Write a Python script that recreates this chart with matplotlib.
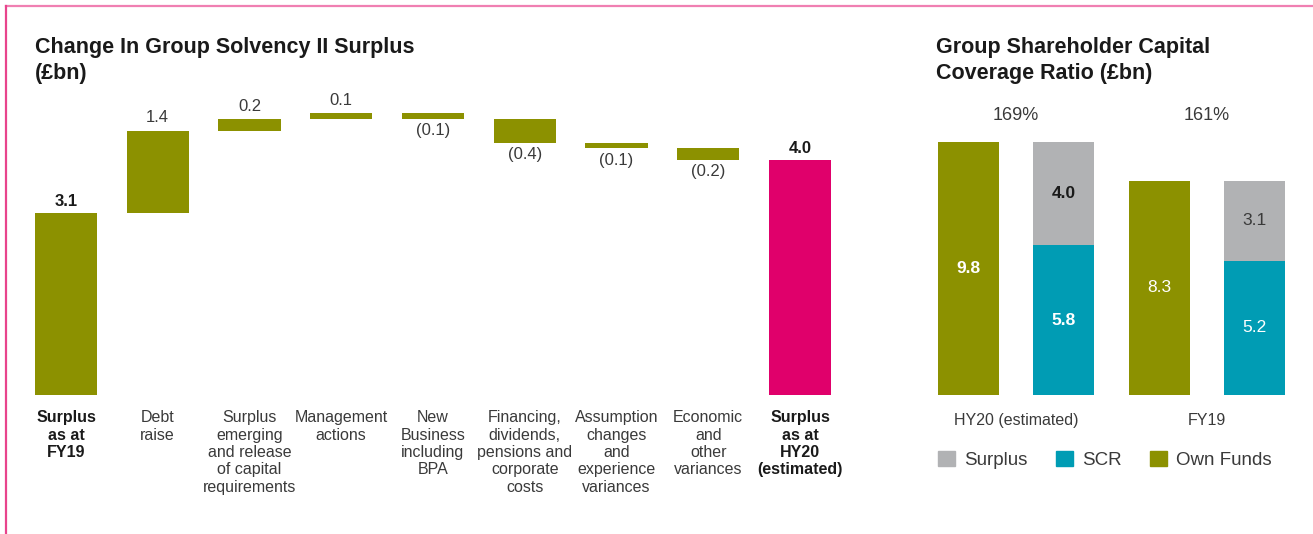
import numpy as np
import matplotlib
matplotlib.use("Agg")
import matplotlib.pyplot as plt
from matplotlib.patches import Patch
from matplotlib.lines import Line2D

# --- data ---
steps = ['Surplus\nas at\nFY19', 'Debt\nraise',
         'Surplus\nemerging\nand release\nof capital\nrequirements',
         'Management\nactions', 'New\nBusiness\nincluding\nBPA',
         'Financing,\ndividends,\npensions and\ncorporate\ncosts',
         'Assumption\nchanges\nand\nexperience\nvariances',
         'Economic\nand\nother\nvariances',
         'Surplus\nas at\nHY20\n(estimated)']
changes = [3.1, 1.4, 0.2, 0.1, -0.1, -0.4, -0.1, -0.2, 4.0]

groups = ['HY20 (estimated)', 'FY19']
own_funds = [9.8, 8.3]
scr = [5.8, 5.2]
surplus = [4.0, 3.1]
ratios = ['169%', '161%']

OLIVE = '#8c9100'
TEAL = '#009cb4'
GREY = '#b1b2b4'
MAGENTA = '#e0006b'
TXT = '#3a3a3a'
W, H = 1313, 534

plt.rcParams['font.family'] = ['Liberation Sans', 'DejaVu Sans']

fig = plt.figure(figsize=(W / 100, H / 100), dpi=100)
fig.patch.set_facecolor('white')


def px_axes(x0, x1, y_top, y_bot):
    return fig.add_axes([x0 / W, 1 - y_bot / H, (x1 - x0) / W, (y_bot - y_top) / H])


# --- waterfall ---
ax = px_axes(20.1, 845.9, 95, 395)
ax.set_xlim(-0.5, 8.5)
ax.set_ylim(0, 300 / 58.7)
x = np.arange(len(changes))
level = 0
for i, v in enumerate(changes):
    if i == 0 or i == len(changes) - 1:
        bottom, h = 0, v
        color = OLIVE if i == 0 else MAGENTA
        level = v
    else:
        bottom = level if v > 0 else level + v
        h = abs(v)
        level += v
        color = OLIVE
    ax.bar(i, h, bottom=bottom, width=0.676, color=color)
    if i == 0 or i == len(changes) - 1:
        ax.annotate(f'{v:.1f}', (i, bottom + h), xytext=(0, 3), textcoords='offset points',
                    ha='center', va='bottom', fontsize=12, fontweight='bold', color='#1a1a1a')
    elif v > 0:
        ax.annotate(f'{v:.1f}', (i, bottom + h), xytext=(0, 4), textcoords='offset points',
                    ha='center', va='bottom', fontsize=12, color=TXT)
    else:
        ax.annotate(f'({abs(v):.1f})', (i, bottom), xytext=(0, -3), textcoords='offset points',
                    ha='center', va='top', fontsize=12, color=TXT)

ax.set_xticks(x)
ax.set_xticklabels(steps, fontsize=11.5, color=TXT, linespacing=1.2)
ax.tick_params(axis='x', length=0, pad=11)
ax.tick_params(axis='y', left=False, labelleft=False)
for k in (0, -1):
    ax.get_xticklabels()[k].set_fontweight('bold')
    ax.get_xticklabels()[k].set_color('#1a1a1a')
for s in ax.spines.values():
    s.set_visible(False)

# --- stacked capital chart ---
ax2 = px_axes(920.9, 1302.1, 95, 395)
ax2.set_xlim(-0.5, 3.5)
ax2.set_ylim(0, 300 / 25.8)
own_x = [0, 2]
scr_x = [1, 3]
ax2.bar(own_x, own_funds, width=0.64, color=OLIVE)
ax2.bar(scr_x, scr, width=0.64, color=TEAL)
ax2.bar(scr_x, surplus, bottom=scr, width=0.64, color=GREY)
for j in range(len(groups)):
    fw = 'bold' if j == 0 else 'normal'
    ax2.text(own_x[j], own_funds[j] / 2, f'{own_funds[j]:.1f}', ha='center', va='center',
             fontsize=12.5, fontweight=fw, color='white')
    ax2.text(scr_x[j], scr[j] / 2, f'{scr[j]:.1f}', ha='center', va='center',
             fontsize=12.5, fontweight=fw, color='white')
    ax2.text(scr_x[j], scr[j] + surplus[j] / 2, f'{surplus[j]:.1f}', ha='center', va='center',
             fontsize=12.5, fontweight=fw, color='#1a1a1a' if j == 0 else TXT)
    ax2.text(own_x[j] + 0.5, 10.85, ratios[j], ha='center', va='center', fontsize=13, color=TXT)
ax2.set_xticks([0.5, 2.5])
ax2.set_xticklabels(groups, fontsize=11.5, color=TXT)
ax2.tick_params(axis='x', length=0, pad=13)
ax2.tick_params(axis='y', left=False, labelleft=False)
for s in ax2.spines.values():
    s.set_visible(False)

handles = [Patch(color=GREY), Patch(color=TEAL), Patch(color=OLIVE)]
fig.legend(handles, ['Surplus', 'SCR', 'Own Funds'], ncol=3, frameon=False,
           loc='center left', bbox_to_anchor=(921 / W, 1 - 460 / H),
           fontsize=13.5, handlelength=0.9, handleheight=0.9, handletextpad=0.5,
           columnspacing=1.5, labelcolor=TXT)

# --- titles ---
fig.text(35 / W, 1 - 37 / H, 'Change In Group Solvency II Surplus\n(£bn)', ha='left', va='top',
         fontsize=15.5, fontweight='bold', color='#1a1a1a', linespacing=1.3)
fig.text(936 / W, 1 - 37 / H, 'Group Shareholder Capital\nCoverage Ratio (£bn)', ha='left', va='top',
         fontsize=15.5, fontweight='bold', color='#1a1a1a', linespacing=1.3)

# --- pink frame ---
fig.add_artist(Line2D([6 / W, 1], [1 - 6 / H, 1 - 6 / H], color='#f07fb2', lw=1.6))
fig.add_artist(Line2D([6 / W, 6 / W], [1 - 6 / H, 0], color='#e8448c', lw=1.6))

fig.savefig('out.png', dpi=100)
